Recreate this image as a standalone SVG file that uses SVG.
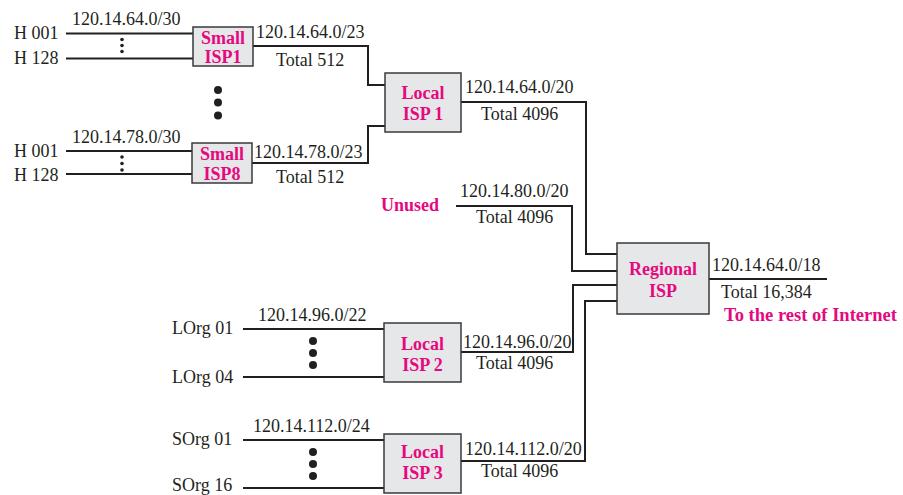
<svg xmlns="http://www.w3.org/2000/svg" width="903" height="495" viewBox="0 0 903 495">
<style>
text{font-family:"Liberation Serif","Times New Roman",serif;font-size:18px;fill:#231f20}
.m{fill:#e5097f;font-weight:bold}
.box{fill:#e6e7e8;stroke:#3a3a3a;stroke-width:1.5}
.ln{fill:none;stroke:#231f20;stroke-width:2}
.d{fill:#231f20}
</style>
<rect width="903" height="495" fill="#fff"/>
<g id="connectors">
<path class="ln" d="M66 33.5H193M66 58.5H193"/>
<path class="ln" d="M253 46H368V85H385"/>
<path class="ln" d="M66 151H192M66 174H192"/>
<path class="ln" d="M252 163H368V126H385"/>
<path class="ln" d="M461 102H586V254H617"/>
<path class="ln" d="M456 206H572V271H617"/>
<path class="ln" d="M461 352H573V285H617"/>
<path class="ln" d="M461 461H585V301H617"/>
<path class="ln" d="M709 279H827"/>
<path class="ln" d="M243 329H384M243 377H384"/>
<path class="ln" d="M243 440H384M243 488H384"/>
<circle class="d" cx="122" cy="39.5" r="1.8"/><circle class="d" cx="122" cy="45.5" r="1.8"/><circle class="d" cx="122" cy="51.5" r="1.8"/>
<circle class="d" cx="122" cy="157" r="1.8"/><circle class="d" cx="122" cy="163.5" r="1.8"/><circle class="d" cx="122" cy="170" r="1.8"/>
<circle class="d" cx="218" cy="90" r="4"/><circle class="d" cx="218" cy="102.5" r="4"/><circle class="d" cx="218" cy="115.5" r="4"/>
<circle class="d" cx="313" cy="341" r="4"/><circle class="d" cx="313" cy="353" r="4"/><circle class="d" cx="313" cy="365" r="4"/>
<circle class="d" cx="313" cy="452" r="4"/><circle class="d" cx="313" cy="464" r="4"/><circle class="d" cx="313" cy="476" r="4"/>
</g>
<g id="labels">
<text x="14" y="39">H 001</text>
<text x="14" y="64">H 128</text>
<text x="72" y="25">120.14.64.0/30</text>
<text x="256" y="38">120.14.64.0/23</text>
<text x="276" y="66">Total 512</text>
<text x="14" y="157">H 001</text>
<text x="14" y="181">H 128</text>
<text x="72" y="143">120.14.78.0/30</text>
<text x="254" y="158">120.14.78.0/23</text>
<text x="276" y="183">Total 512</text>
<text x="465" y="93">120.14.64.0/20</text>
<text x="481" y="120">Total 4096</text>
<text class="m" x="381" y="211">Unused</text>
<text x="460" y="197">120.14.80.0/20</text>
<text x="476" y="223">Total 4096</text>
<text x="712" y="271">120.14.64.0/18</text>
<text x="721" y="298">Total 16,384</text>
<text class="m" x="724" y="321" textLength="173" lengthAdjust="spacingAndGlyphs">To the rest of Internet</text>
<text x="172" y="334">LOrg 01</text>
<text x="172" y="383">LOrg 04</text>
<text x="258" y="321">120.14.96.0/22</text>
<text x="463" y="348">120.14.96.0/20</text>
<text x="476" y="369">Total 4096</text>
<text x="172" y="445">SOrg 01</text>
<text x="172" y="491">SOrg 16</text>
<text x="253" y="432">120.14.112.0/24</text>
<text x="465" y="455">120.14.112.0/20</text>
<text x="481" y="477">Total 4096</text>
</g>
<g id="small-isp1">
<rect class="box" x="193" y="27" width="60" height="39"/>
<text class="m" x="223" y="44" text-anchor="middle">Small</text>
<text class="m" x="223" y="63" text-anchor="middle">ISP1</text>
</g>
<g id="small-isp8">
<rect class="box" x="192" y="143" width="60" height="40"/>
<text class="m" x="222" y="160" text-anchor="middle">Small</text>
<text class="m" x="222" y="180" text-anchor="middle">ISP8</text>
</g>
<g id="local-isp1">
<rect class="box" x="385" y="73" width="76" height="59"/>
<text class="m" x="423" y="99" text-anchor="middle">Local</text>
<text class="m" x="423" y="120" text-anchor="middle">ISP 1</text>
</g>
<g id="regional-isp">
<rect class="box" x="617" y="243" width="92" height="71"/>
<text class="m" x="663" y="275" text-anchor="middle">Regional</text>
<text class="m" x="663" y="297" text-anchor="middle">ISP</text>
</g>
<g id="local-isp2">
<rect class="box" x="384" y="323" width="77" height="59"/>
<text class="m" x="422.5" y="350" text-anchor="middle">Local</text>
<text class="m" x="422.5" y="371" text-anchor="middle">ISP 2</text>
</g>
<g id="local-isp3">
<rect class="box" x="384" y="434" width="77" height="59"/>
<text class="m" x="422.5" y="458" text-anchor="middle">Local</text>
<text class="m" x="422.5" y="479" text-anchor="middle">ISP 3</text>
</g>
</svg>
